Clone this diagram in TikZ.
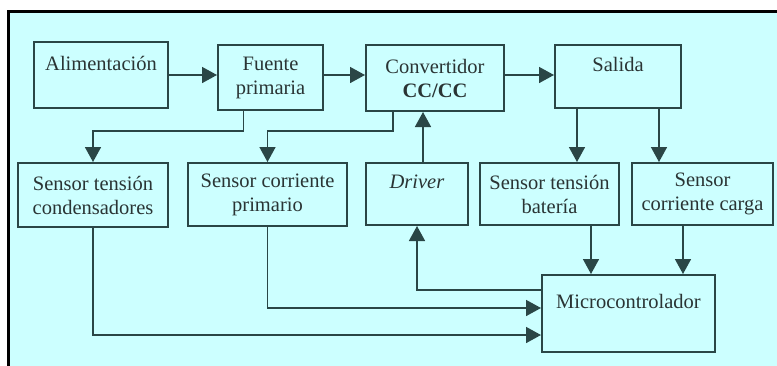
\documentclass[tikz,border=0pt]{standalone}
\usepackage{fontspec}
\setmainfont{Liberation Serif}
\newfontfamily\diagfont{Liberation Serif}
\usetikzlibrary{arrows.meta, positioning}
\definecolor{panelcyan}{HTML}{CCFFFF}
\definecolor{boxline}{HTML}{2A4646}
\definecolor{boxtext}{HTML}{2A3434}

\begin{document}
\begin{tikzpicture}[x=1pt, y=-1pt, every node/.style={font=\diagfont\fontsize{20.5}{24}\selectfont, text=boxtext}, align=center,
    blockbox/.style={draw=boxline, line width=2pt, rectangle, inner sep=0pt},
    conn/.style={draw=boxline, line width=1.6pt, -{Triangle[length=15pt, width=16pt]}}]
  \useasboundingbox (0,0) rectangle (777,365);
  \fill[white] (0,0) rectangle (777,365);
  \draw[fill=panelcyan, line width=3pt] (8,11) rectangle (800,390);

  \node (alim) [blockbox, minimum width=134pt, minimum height=66pt] at (101,75) {Alimentación\\\mbox{}};
  \node (fuente) [blockbox, minimum width=105pt, minimum height=65pt] at (270.5,77.5) {Fuente\\primaria};
  \node (conv) [blockbox, minimum width=138pt, minimum height=66pt] at (435,78) {Convertidor\\\textbf{CC/CC}};
  \node (salida) [blockbox, minimum width=126pt, minimum height=63pt] at (618,76.5) {Salida\\\mbox{}};

  \node (stc) [blockbox, minimum width=150pt, minimum height=64pt] at (93,195) {Sensor tensión\\condensadores};
  \node (scp) [blockbox, minimum width=159pt, minimum height=63pt] at (267.5,194.5) {Sensor corriente\\primario};
  \node (driver) [blockbox, minimum width=102pt, minimum height=62pt] at (417,194) {\textit{Driver}\\\mbox{}};
  \node (stb) [blockbox, minimum width=139pt, minimum height=62pt] at (549.5,194) {Sensor tensión\\batería};
  \node (scc) [blockbox, minimum width=141pt, minimum height=62pt] at (702.5,194) {Sensor\\corriente carga};

  \node (micro) [blockbox, minimum width=173pt, minimum height=77pt] at (628.5,313.5) {Microcontrolador\\\mbox{}};

  % main power chain
  \draw [conn] (alim) -- (fuente.west |- alim);
  \draw [conn] (fuente.east |- alim) -- (conv.west |- alim);
  \draw [conn] (conv.east |- alim) -- (salida.west |- alim);

  % sensors fed from the top row
  \draw [conn] ([xshift=-27pt]fuente.south) -- ++(0,20) -| (stc.north);
  \draw [conn] ([xshift=-42pt]conv.south) -- ++(0,19) -| (scp.north);
  \draw [conn] ([xshift=6pt]driver.north) -- ([xshift=6pt]driver.north |- conv.south);
  \draw [conn] ([xshift=-41pt]salida.south) -- ([xshift=-41pt]salida.south |- stb.north);
  \draw [conn] ([xshift=41pt]salida.south) -- ([xshift=41pt]salida.south |- scc.north);

  % measurements into the microcontroller
  \draw [conn] ([xshift=41.5pt]stb.south) -- ([xshift=41.5pt]stb.south |- micro.north);
  \draw [conn] ([xshift=-19.5pt]scc.south) -- ([xshift=-19.5pt]scc.south |- micro.north);
  \draw [conn] ([yshift=23.5pt]micro.west) -| (driver.south);
  \draw [conn] (scp.south) |- ([yshift=5.5pt]micro.west);
  \draw [conn] (stc.south) |- ([yshift=-21.5pt]micro.west);
\end{tikzpicture}
\end{document}
